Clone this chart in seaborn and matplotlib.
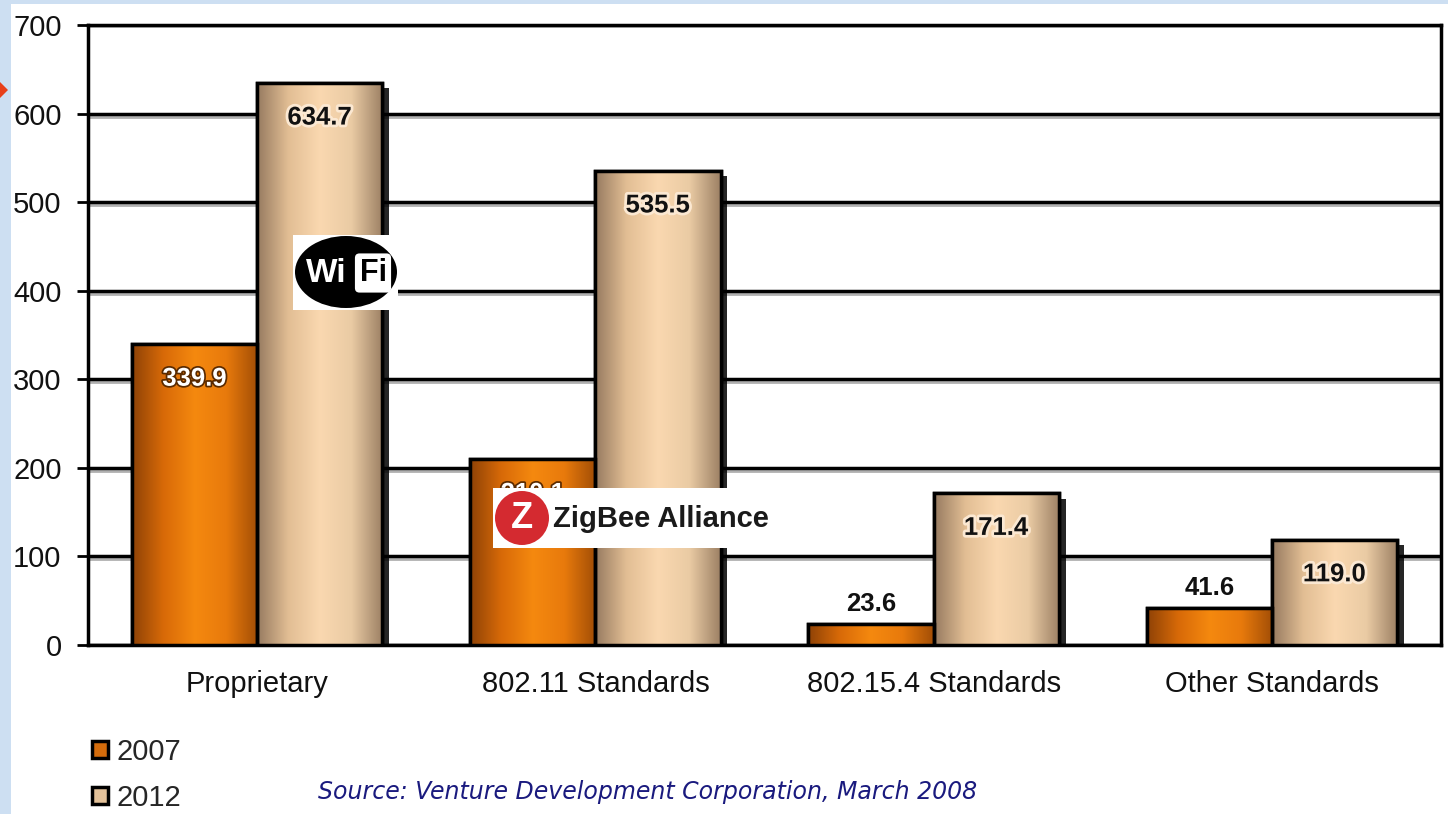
import matplotlib
matplotlib.use("Agg")
import numpy as np
import pandas as pd
import matplotlib.pyplot as plt
import seaborn as sns
import matplotlib.patheffects as pe
from matplotlib.patches import Rectangle, Polygon, Ellipse
from matplotlib.colors import LinearSegmentedColormap

categories = ["Proprietary", "802.11 Standards", "802.15.4 Standards", "Other Standards"]
years = ["2007", "2012"]
values_2007 = [339.9, 210.1, 23.6, 41.6]
values_2012 = [634.7, 535.5, 171.4, 119.0]
yticks = [0, 100, 200, 300, 400, 500, 600, 700]
source_text = "Source: Venture Development Corporation, March 2008"

df = pd.DataFrame({
    "category": categories * 2,
    "year": [years[0]] * len(categories) + [years[1]] * len(categories),
    "value": values_2007 + values_2012,
})

sns.set_theme(style="white")
plt.rcParams["font.family"] = ["Liberation Sans", "DejaVu Sans"]

W, H = 1448, 814
fig = plt.figure(figsize=(W / 100, H / 100), dpi=100)
fig.patch.set_facecolor("#cddff2")


def fx(px):
    return px / W


def fy(py):
    return 1 - py / H


# white panel behind the chart
fig.patches.append(Rectangle((fx(11), 0), 1 - fx(11), fy(4), transform=fig.transFigure,
                             facecolor="white", edgecolor="none", zorder=-1))
# small red arrow at left edge
fig.patches.append(Polygon([(fx(0), fy(82)), (fx(8), fy(90)), (fx(0), fy(98))], closed=True,
                           transform=fig.transFigure, facecolor="#e8401a", edgecolor="none", zorder=1))

ax = fig.add_axes([fx(88), fy(645), fx(1441 - 88), (645 - 25) / H])
ax.set_facecolor("white")

palette = {"2007": "#D46C0C", "2012": "#E4C29A"}
sns.barplot(data=df, x="category", y="value", hue="year", palette=palette,
            width=0.74, edgecolor="black", linewidth=2.5, ax=ax, zorder=3,
            errorbar=None, saturation=1)

cmaps = [
    LinearSegmentedColormap.from_list("c07", ["#8E4206", "#D86A08", "#F5890F", "#E87A0C", "#A24E06"]),
    LinearSegmentedColormap.from_list("c12", ["#967a60", "#E2BE94", "#FAD8B0", "#EACBA4", "#9c8064"]),
]
grad = np.linspace(0, 1, 256)[None, :]

# faint gray shadow under each gridline
for t in yticks[1:-1]:
    ax.axhline(t, color="#b0b0b0", linewidth=2, zorder=0.5,
               path_effects=[pe.Stroke(offset=(0, -2.2))])

value_sets = [values_2007, values_2012]
for ci, cont in enumerate(ax.containers):
    for bar, v in zip(cont, value_sets[ci]):
        bar.set_path_effects([pe.SimplePatchShadow(offset=(5, -4), shadow_rgbFace="black", alpha=0.85),
                              pe.Normal()])
        x0, y0 = bar.get_x(), bar.get_y()
        w, h = bar.get_width(), bar.get_height()
        im = ax.imshow(grad, cmap=cmaps[ci], extent=[x0, x0 + w, y0, y0 + h],
                       aspect="auto", zorder=3.5, interpolation="bicubic")
        im.set_clip_path(bar)
        ax.add_patch(Rectangle((x0, y0), w, h, fill=False, edgecolor="black",
                               linewidth=2.5, zorder=4))
        cx = x0 + w / 2
        lab = f"{v:.1f}"
        if v > 100:
            if ci == 0:
                ax.annotate(lab, (cx, v), xytext=(0, -25), textcoords="offset points",
                            ha="center", va="center", fontsize=18.5, fontweight="bold",
                            color="white", zorder=6,
                            path_effects=[pe.withStroke(linewidth=2.5, foreground="#5a2a00")])
            else:
                ax.annotate(lab, (cx, v), xytext=(0, -25), textcoords="offset points",
                            ha="center", va="center", fontsize=18.5, fontweight="bold",
                            color="#111111", zorder=6,
                            path_effects=[pe.withStroke(linewidth=4, foreground="#fbe8d2")])
        else:
            ax.annotate(lab, (cx, v), xytext=(0, 6), textcoords="offset points",
                        ha="center", va="bottom", fontsize=18.5, fontweight="bold",
                        color="#111111", zorder=6)

# axes styling
ax.set_xlim(-0.5, len(categories) - 0.5)
ax.set_ylim(yticks[0], yticks[-1])
ax.set_yticks(yticks)
ax.set_yticklabels([str(t) for t in yticks], fontsize=21, color="#111111")
ax.yaxis.grid(True, color="black", linewidth=2.5, zorder=0)
ax.set_axisbelow(True)
ax.set_xticks(np.arange(-0.5, len(categories), 1.0))
ax.set_xticklabels([])
ax.set_xticks(range(len(categories)), minor=True)
ax.set_xticklabels(categories, minor=True, fontsize=21, color="#111111")
ax.tick_params(axis="x", which="major", direction="out", length=9, width=2.5, color="black")
ax.tick_params(axis="x", which="minor", length=0, pad=18)
ax.tick_params(axis="y", direction="out", length=8, width=2, color="black", pad=11, left=True)
ax.set_xlabel("")
ax.set_ylabel("")
for s in ["left", "bottom", "right", "top"]:
    ax.spines[s].set_visible(True)
    ax.spines[s].set_color("black")
    ax.spines[s].set_linewidth(2.5)

# legend
handles, labels = ax.get_legend_handles_labels()
if ax.get_legend() is not None:
    ax.get_legend().remove()
fig.legend(handles, labels, loc="upper left", bbox_to_anchor=(fx(80), fy(726)),
           frameon=False, fontsize=21, handlelength=0.55, handleheight=0.55,
           labelspacing=0.62, handletextpad=0.3, borderaxespad=0)

# source
fig.text(fx(318), fy(792), source_text, fontsize=17, style="italic", color="#1a1a7e",
         family=["DejaVu Sans"], va="center", ha="left")

# Wi-Fi logo
fig.patches.append(Rectangle((fx(293), fy(310)), fx(105), 75 / H, transform=fig.transFigure,
                             facecolor="white", edgecolor="none", zorder=5))
fig.patches.append(Ellipse((fx(346), fy(272)), fx(102), 72 / H, transform=fig.transFigure,
                           facecolor="black", edgecolor="none", zorder=6))
fig.text(fx(326), fy(273), "Wi", fontsize=24, fontweight="bold", color="white",
         ha="center", va="center", zorder=7)
fig.text(fx(373), fy(273), "Fi", fontsize=22, fontweight="bold", color="black",
         ha="center", va="center", zorder=7,
         bbox=dict(boxstyle="round,pad=0.15", fc="white", ec="none"))

# ZigBee Alliance logo
fig.patches.append(Rectangle((fx(493), fy(548)), fx(287), 60 / H, transform=fig.transFigure,
                             facecolor="white", edgecolor="none", zorder=5))
fig.patches.append(Ellipse((fx(522), fy(518)), fx(54), 54 / H, transform=fig.transFigure,
                           facecolor="#d42a30", edgecolor="none", zorder=6))
fig.text(fx(522), fy(518), "Z", fontsize=26, fontweight="bold", color="white",
         ha="center", va="center", zorder=7)
fig.text(fx(553), fy(519), "ZigBee Alliance", fontsize=21, fontweight="bold", color="#1a1a1a",
         ha="left", va="center", zorder=7)

fig.savefig("out.png", dpi=100, facecolor=fig.get_facecolor())
